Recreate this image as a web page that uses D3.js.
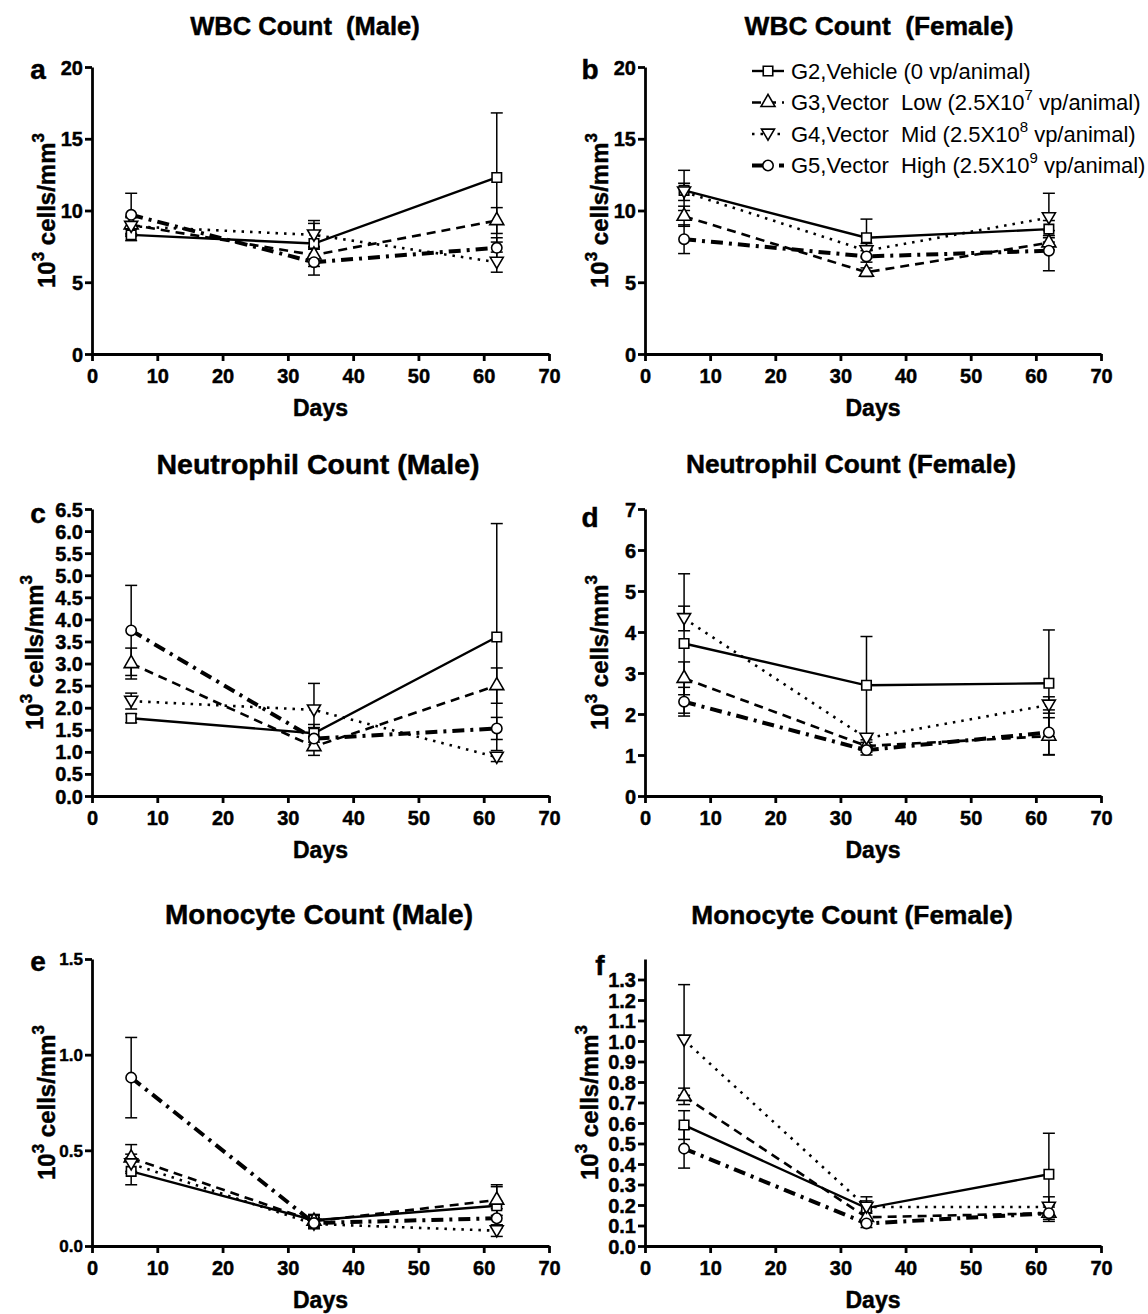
<!DOCTYPE html>
<html><head><meta charset="utf-8">
<script src="https://cdn.jsdelivr.net/npm/d3@7"></script>
<style>
body{margin:0;background:#fff}
text{font-family:"Liberation Sans",Arial,Helvetica,sans-serif;fill:#000}
.b{font-weight:bold;stroke:#000;stroke-width:0.45px}
</style>
</head><body>
<svg id="chart" width="1148" height="1314"></svg>
<script>
// ---------- data ----------
const days = [6, 34, 62];
const xTicks = [0, 10, 20, 30, 40, 50, 60, 70];
const groups = ["G2", "G3", "G4", "G5"];
const legendPre  = ["G2,Vehicle (0 vp/animal)", "G3,Vector  Low (2.5X10", "G4,Vector  Mid (2.5X10", "G5,Vector  High (2.5X10"];
const legendSup  = ["", "7", "8", "9"];
const legendPost = ["", " vp/animal)", " vp/animal)", " vp/animal)"];

const titles = ["WBC Count  (Male)", "WBC Count  (Female)", "Neutrophil Count (Male)", "Neutrophil Count (Female)", "Monocyte Count (Male)", "Monocyte Count (Female)"];
const letters = ["a", "b", "c", "d", "e", "f"];

const ticksWBC = [0, 5, 10, 15, 20];
const ticksNeutMale = [0, 0.5, 1, 1.5, 2, 2.5, 3, 3.5, 4, 4.5, 5, 5.5, 6, 6.5];
const ticksNeutFemale = [0, 1, 2, 3, 4, 5, 6, 7];
const ticksMonoMale = [0, 0.5, 1, 1.5];
const ticksMonoFemale = [0, 0.1, 0.2, 0.3, 0.4, 0.5, 0.6, 0.7, 0.8, 0.9, 1.0, 1.1, 1.2, 1.3];

// rows = G2, G3, G4, G5 ; columns = day 6, 34, 62
const wbcMaleMean = [[8.3, 7.7, 12.3], [9.0, 6.9, 9.3], [8.9, 8.3, 6.4], [9.7, 6.4, 7.4]];
const wbcMaleSD   = [[0.4, 1.6, 4.5], [0.6, 0.5, 0.9], [0.6, 0.8, 0.7], [1.5, 0.9, 0.7]];
const wbcFemaleMean = [[11.4, 8.1, 8.7], [9.6, 5.7, 7.75], [11.3, 7.2, 9.5], [8.0, 6.8, 7.2]];
const wbcFemaleSD   = [[1.4, 1.3, 0.6], [0.7, 0.3, 0.5], [0.6, 0.5, 1.7], [1.0, 0.4, 1.4]];
const neutMaleMean = [[1.76, 1.42, 3.6], [3.0, 1.12, 2.5], [2.15, 1.95, 0.88], [3.75, 1.3, 1.53]];
const neutMaleSD   = [[0.1, 0.2, 2.57], [0.35, 0.2, 0.4], [0.18, 0.6, 0.1], [1.02, 0.25, 0.25]];
const neutFemaleMean = [[3.72, 2.7, 2.75], [2.87, 1.22, 1.46], [4.33, 1.41, 2.22], [2.3, 1.12, 1.55]];
const neutFemaleSD   = [[1.7, 1.19, 1.3], [0.4, 0.15, 0.45], [0.3, 0.1, 0.2], [0.35, 0.12, 0.55]];
const monoMaleMean = [[0.39, 0.135, 0.21], [0.46, 0.13, 0.24], [0.43, 0.115, 0.08], [0.88, 0.12, 0.145]];
const monoMaleSD   = [[0.07, 0.03, 0.1], [0.07, 0.03, 0.08], [0.05, 0.02, 0.03], [0.21, 0.03, 0.05]];
const monoFemaleMean = [[0.59, 0.185, 0.35], [0.73, 0.14, 0.16], [1.005, 0.19, 0.19], [0.475, 0.11, 0.16]];
const monoFemaleSD   = [[0.07, 0.055, 0.2], [0.04, 0.03, 0.03], [0.27, 0.03, 0.05], [0.095, 0.02, 0.04]];

// ---------- layout / style ----------
const panels = [
  {mean: wbcMaleMean, sd: wbcMaleSD, yMax: 20, ticks: ticksWBC, fmt: d3.format("d"), x0: 92, x1: 549, yt: 67, yb: 354, tickFont: 20, labOff: 37},
  {mean: wbcFemaleMean, sd: wbcFemaleSD, yMax: 20, ticks: ticksWBC, fmt: d3.format("d"), x0: 645, x1: 1101, yt: 67, yb: 354, tickFont: 20, labOff: 37},
  {mean: neutMaleMean, sd: neutMaleSD, yMax: 6.5, ticks: ticksNeutMale, fmt: d3.format(".1f"), x0: 92, x1: 549, yt: 509, yb: 796, tickFont: 20, labOff: 49},
  {mean: neutFemaleMean, sd: neutFemaleSD, yMax: 7, ticks: ticksNeutFemale, fmt: d3.format("d"), x0: 645, x1: 1101, yt: 509, yb: 796, tickFont: 20, labOff: 37},
  {mean: monoMaleMean, sd: monoMaleSD, yMax: 1.5, ticks: ticksMonoMale, fmt: d3.format(".1f"), x0: 92, x1: 549, yt: 959, yb: 1246, tickFont: 17, labOff: 37},
  {mean: monoFemaleMean, sd: monoFemaleSD, yMax: 1.4, ticks: ticksMonoFemale, fmt: d3.format(".1f"), x0: 645, x1: 1101, yt: 959, yb: 1246, tickFont: 20, labOff: 47}
];
const titlePos = [[305, 28], [879, 28], [318, 466], [851, 466], [319, 917], [852, 917]];
const titleSize = [25.5, 26.3, 28.5, 26.3, 28, 26.3];
const letterPos = [[38, 72], [590, 72], [38, 516], [590, 520], [38, 964], [600, 968]];

const lineStyle = [
  {w: 2.4, dash: null},
  {w: 2.6, dash: "9,6"},
  {w: 2.6, dash: "2.5,6"},
  {w: 4, dash: "12,6,3,6"}
];
const markerType = [d3.symbolSquare, d3.symbolTriangle, "down", d3.symbolCircle];

const svg = d3.select("#chart");

function drawMarker(g, type, cx, cy) {
  if (type === "down") {
    const s = 6.5;
    g.append("path")
      .attr("d", `M${cx - s},${cy - s * 0.75}L${cx + s},${cy - s * 0.75}L${cx},${cy + s * 0.95}Z`)
      .attr("fill", "#fff").attr("stroke", "#000").attr("stroke-width", 1.6);
  } else {
    const size = type === d3.symbolSquare ? 90 : 85;
    g.append("path")
      .attr("d", d3.symbol().type(type).size(size)())
      .attr("transform", `translate(${cx},${cy})`)
      .attr("fill", "#fff").attr("stroke", "#000").attr("stroke-width", 1.6);
  }
}

panels.forEach((p, i) => {
  const x = d3.scaleLinear().domain([0, 70]).range([p.x0, p.x1]);
  const y = d3.scaleLinear().domain([0, p.yMax]).range([p.yb, p.yt]);
  const g = svg.append("g");

  // title
  g.append("text").attr("class", "b").attr("x", titlePos[i][0]).attr("y", titlePos[i][1])
    .attr("text-anchor", "middle").attr("dominant-baseline", "middle")
    .attr("font-size", titleSize[i]).style("white-space", "pre").text(titles[i]);
  // panel letter
  g.append("text").attr("class", "b").attr("x", letterPos[i][0]).attr("y", letterPos[i][1])
    .attr("text-anchor", "middle").attr("dominant-baseline", "middle")
    .attr("font-size", 28).text(letters[i]);

  // axes
  const ax = g.append("g").attr("transform", `translate(0,${p.yb})`)
    .call(d3.axisBottom(x).tickValues(xTicks).tickSize(7).tickSizeOuter(0).tickFormat(d3.format("d")));
  const ay = g.append("g").attr("transform", `translate(${p.x0},0)`)
    .call(d3.axisLeft(y).tickValues(p.ticks).tickSize(7).tickSizeOuter(0).tickFormat(p.fmt));
  [ax, ay].forEach(a => {
    a.select(".domain").attr("stroke", "#000").attr("stroke-width", 2.8);
    a.selectAll(".tick line").attr("stroke", "#000").attr("stroke-width", 2.8);
    a.selectAll(".tick text").attr("class", "b").attr("fill", "#000")
      .style("font-family", '"Liberation Sans",Arial,sans-serif');
  });
  ax.selectAll(".tick text").attr("font-size", 20).attr("dy", "0.95em");
  ay.selectAll(".tick text").attr("font-size", p.tickFont).attr("dy", "0.35em").attr("x", -9);

  // axis titles
  g.append("text").attr("class", "b").attr("x", (p.x0 + p.x1) / 2).attr("y", p.yb + 62)
    .attr("text-anchor", "middle").attr("font-size", 23).text("Days");
  const yl = g.append("text").attr("class", "b")
    .attr("transform", `translate(${p.x0 - p.labOff},${(p.yt + p.yb) / 2}) rotate(-90)`)
    .attr("text-anchor", "middle").attr("font-size", 24);
  yl.append("tspan").text("10");
  yl.append("tspan").attr("font-size", 17).attr("dy", -11).text("3");
  yl.append("tspan").attr("dy", 11).text(" cells/mm");
  yl.append("tspan").attr("font-size", 17).attr("dy", -11).text("3");

  // error bars
  p.mean.forEach((row, s) => {
    row.forEach((m, k) => {
      const sd = p.sd[s][k];
      const cx = x(days[k]);
      const lo = y(Math.max(0, m - sd)), hi = y(m + sd);
      g.append("line").attr("x1", cx).attr("x2", cx).attr("y1", lo).attr("y2", hi)
        .attr("stroke", "#000").attr("stroke-width", 1.5);
      [lo, hi].forEach(yy => g.append("line").attr("x1", cx - 6).attr("x2", cx + 6)
        .attr("y1", yy).attr("y2", yy).attr("stroke", "#000").attr("stroke-width", 1.5));
    });
  });

  // lines
  const line = d3.line().x((d, k) => x(days[k])).y(d => y(d));
  p.mean.forEach((row, s) => {
    g.append("path").attr("d", line(row)).attr("fill", "none").attr("stroke", "#000")
      .attr("stroke-width", lineStyle[s].w)
      .attr("stroke-dasharray", lineStyle[s].dash);
  });
  // markers
  p.mean.forEach((row, s) => {
    row.forEach((m, k) => drawMarker(g, markerType[s], x(days[k]), y(m)));
  });
});

// legend
const lg = svg.append("g");
groups.forEach((gname, s) => {
  const yy = 71 + s * 31.5;
  lg.append("line").attr("x1", 752).attr("x2", 784).attr("y1", yy).attr("y2", yy)
    .attr("stroke", "#000").attr("stroke-width", lineStyle[s].w)
    .attr("stroke-dasharray", lineStyle[s].dash);
  drawMarker(lg, markerType[s], 768, yy);
  const t = lg.append("text").attr("x", 791).attr("y", yy).attr("dy", "0.35em")
    .attr("font-size", 22).style("white-space", "pre");
  t.append("tspan").text(legendPre[s]);
  if (legendSup[s]) {
    t.append("tspan").attr("font-size", 15).attr("dy", -10).text(legendSup[s]);
    t.append("tspan").attr("dy", 10).text(legendPost[s]);
  }
});
</script>
</body></html>
